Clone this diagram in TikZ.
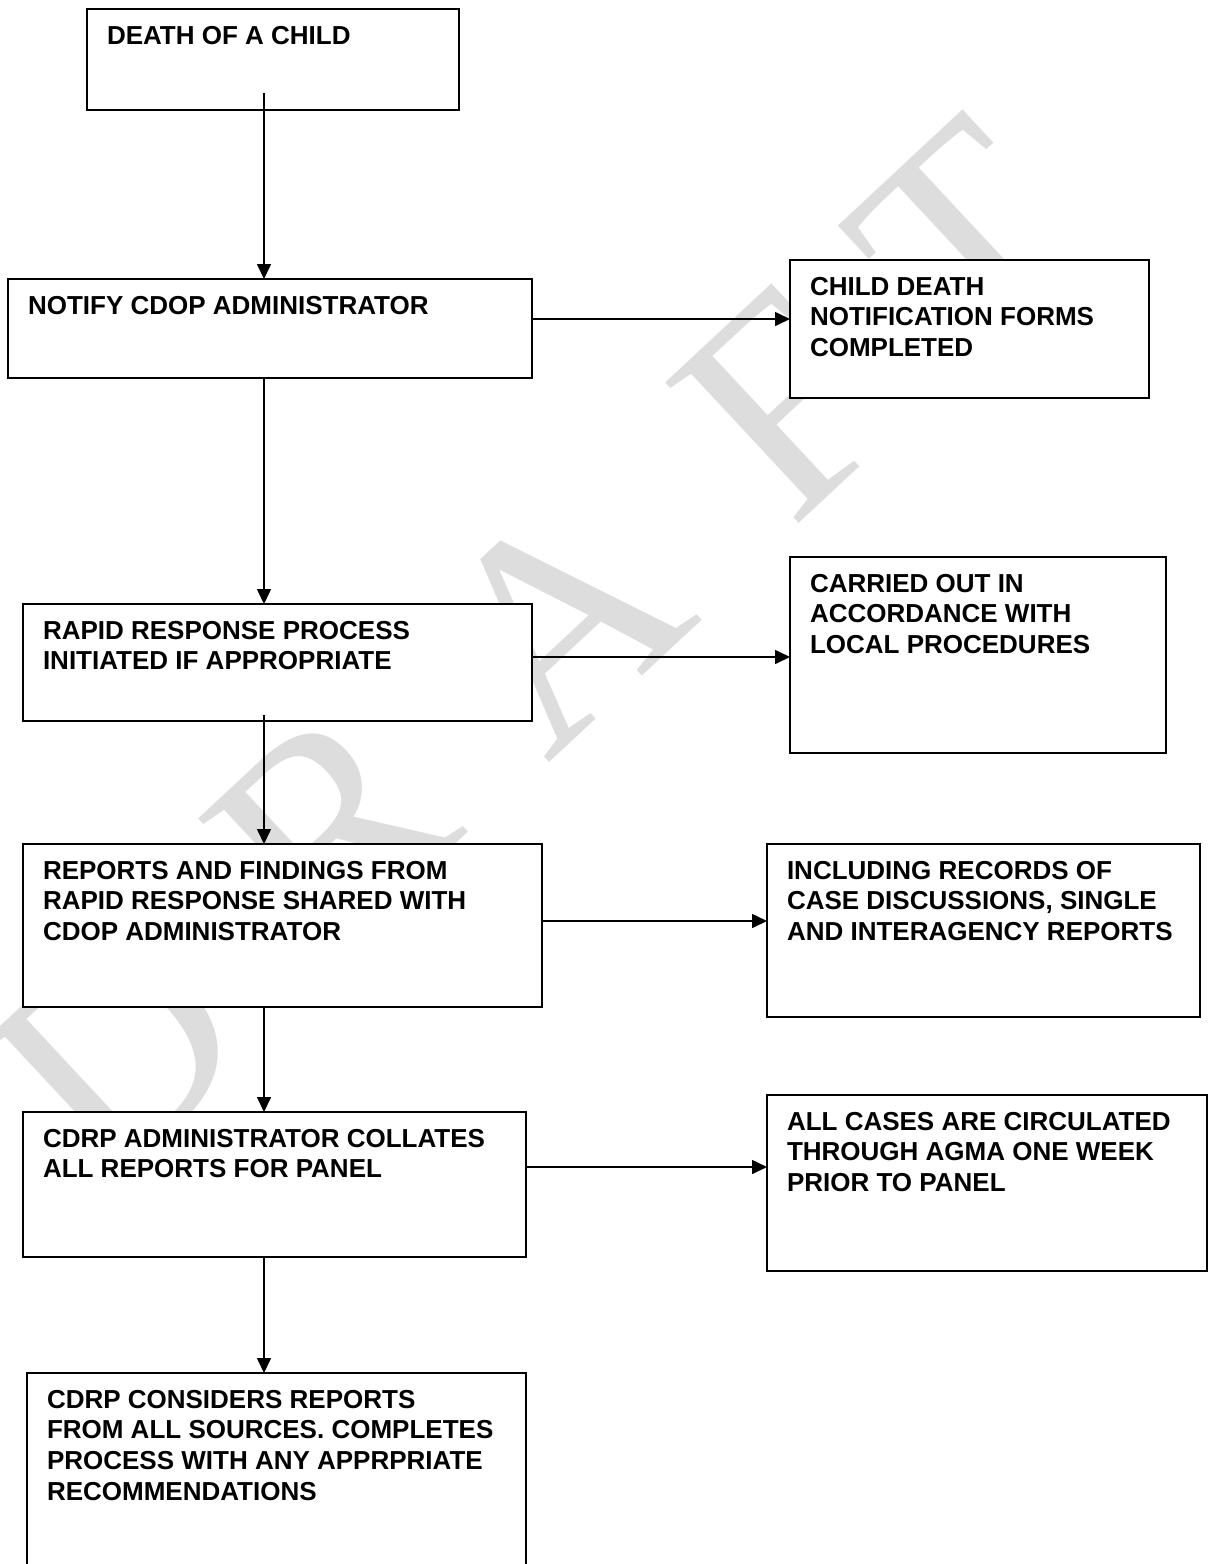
\documentclass[tikz,border=0pt]{standalone}
\usepackage{fontspec}
\setmainfont{Liberation Sans}
\newfontfamily\draftfont{Liberation Serif}
\usetikzlibrary{arrows.meta,calc}
\definecolor{draftgray}{RGB}{221,221,221}
\newcommand{\stagetext}[3]{\parbox[t][#2pt][t]{#1pt}{\raggedright #3}}

\begin{document}
\begin{tikzpicture}[x=1pt, y=-1pt,
    stage/.style={draw, fill=white, line width=1.6pt, anchor=north west,
      inner xsep=20pt, inner ysep=17pt, outer sep=0pt,
      font=\bfseries\fontsize{26}{30.7}\selectfont},
    flow/.style={-{Triangle[length=15pt,width=14pt]}, line width=1.6pt},
    draft/.style={text=draftgray, inner sep=0pt, rotate=43,
      font=\draftfont\fontsize{296}{296}\selectfont}]
    \useasboundingbox (0,0) rectangle (1208,1564);

    % vodoznak
    \foreach \l/\x/\y in {D/118/1050, R/331/828, A/559/620, F/786/403, T/967/239}
        \node[draft] (draft\l) at (\x,\y) {\l};

    % hlavni sloupec
    \node[stage] (death) at (87,9) {\stagetext{332}{67}{DEATH OF A CHILD}};
    \node[stage] (notify) at (8,279) {\stagetext{484}{65}{NOTIFY CDOP ADMINISTRATOR}};
    \node[stage] (rapid) at (23,604) {\stagetext{469}{83}{RAPID RESPONSE PROCESS\\
        INITIATED IF APPROPRIATE}};
    \node[stage] (shared) at (23,844) {\stagetext{479}{129}{REPORTS AND FINDINGS FROM\\
        RAPID RESPONSE SHARED WITH\\ CDOP ADMINISTRATOR}};
    \node[stage] (collate) at (23,1112) {\stagetext{463}{111}{CDRP ADMINISTRATOR COLLATES\\
        ALL REPORTS FOR PANEL}};
    \node[stage] (consider) at (27,1373) {\stagetext{459}{173}{CDRP CONSIDERS REPORTS\\
        FROM ALL SOURCES. COMPLETES\\ PROCESS WITH ANY APPRPRIATE\\ RECOMMENDATIONS}};

    % vedlejsi sloupec
    \node[stage] (forms) at (790,260) {\stagetext{319}{104}{CHILD DEATH\\
        NOTIFICATION FORMS\\ COMPLETED}};
    \node[stage] (local) at (790,557) {\stagetext{336}{162}{CARRIED OUT IN\\
        ACCORDANCE WITH\\ LOCAL PROCEDURES}};
    \node[stage] (records) at (767,844) {\stagetext{393}{139}{INCLUDING RECORDS OF\\
        CASE DISCUSSIONS, SINGLE\\ AND INTERAGENCY REPORTS}};
    \node[stage] (circulate) at (767,1095) {\stagetext{400}{142}{ALL CASES ARE CIRCULATED\\
        THROUGH AGMA ONE WEEK\\ PRIOR TO PANEL}};

    % sipky dolu
    \coordinate (spine) at (264,0);
    \draw[flow] ($(death.south -| spine)+(0,-17)$) -- (notify.north -| spine);
    \draw[flow] (notify.south -| spine) -- (rapid.north -| spine);
    \draw[flow] ($(rapid.south -| spine)+(0,-6)$) -- (shared.north -| spine);
    \draw[flow] (shared.south -| spine) -- (collate.north -| spine);
    \draw[flow] (collate.south -| spine) -- (consider.north -| spine);

    % sipky doprava
    \path ($(notify.east)+(0,-9.5)$) coordinate (row1)
          ($(rapid.east)+(0,-5.5)$) coordinate (row2)
          ($(shared.east)+(0,-4.5)$) coordinate (row3)
          ($(collate.east)+(0,-17.5)$) coordinate (row4);
    \draw[flow] (row1) -- (row1 -| forms.west);
    \draw[flow] (row2) -- (row2 -| local.west);
    \draw[flow] (row3) -- (row3 -| records.west);
    \draw[flow] (row4) -- (row4 -| circulate.west);

\end{tikzpicture}
\end{document}
